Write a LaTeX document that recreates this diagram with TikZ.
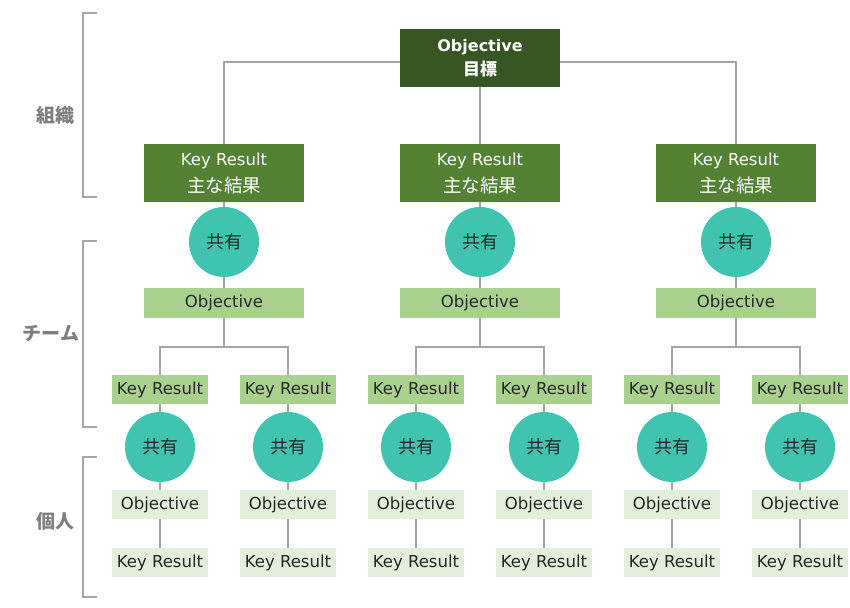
\documentclass[tikz,border=0pt]{standalone}
\usepackage{fontspec}
\setmainfont{DejaVu Sans}
\newfontfamily\jpfont{Noto Sans CJK JP}
\usetikzlibrary{positioning}
\definecolor{okrdark}{HTML}{375623}
\definecolor{okrmid}{HTML}{548235}
\definecolor{okrlight}{HTML}{A9D18E}
\definecolor{okrpale}{HTML}{E2EFDA}
\definecolor{okrteal}{HTML}{40C4B0}
\definecolor{okrline}{HTML}{A6A6A6}
\definecolor{okrtext}{HTML}{262626}
\definecolor{okrlabel}{HTML}{7F7F7F}

\begin{document}
\begin{tikzpicture}[
    x=1pt, y=-1pt,
    box/.style={inner sep=0pt, outer sep=0pt, align=center},
    topbox/.style={box, fill=okrdark, text=white, minimum width=160pt,
                   minimum height=58pt, font=\fontsize{16}{24}\selectfont\bfseries},
    orgkr/.style={box, fill=okrmid, text=white, minimum width=160pt,
                  minimum height=58pt, font=\fontsize{16.5}{27}\selectfont},
    teamobj/.style={box, fill=okrlight, text=okrtext, minimum width=160pt,
                    minimum height=30pt, font=\fontsize{16.5}{20}\selectfont},
    teamkr/.style={box, fill=okrlight, text=okrtext, minimum width=96pt,
                   minimum height=29pt, font=\fontsize{16.5}{20}\selectfont},
    ownbox/.style={box, fill=okrpale, text=okrtext, minimum width=96pt,
                   minimum height=29pt, font=\fontsize{16.5}{20}\selectfont},
    share/.style={circle, fill=okrteal, text=okrtext, minimum size=70pt,
                  inner sep=0pt, outer sep=0pt, font=\jpfont\fontsize{18}{20}\selectfont},
    tier/.style={text=okrlabel, font=\jpfont\bfseries\fontsize{19}{22}\selectfont},
    link/.style={draw=okrline, line width=1.4pt},
    bracket/.style={draw=okrline, line width=1.6pt},
  ]
  \useasboundingbox (0,0) rectangle (850,607);

  % tiers on the left
  \node[tier] (org) at (55,115) {組織};
  \node[tier] (team) at (51,333) {チーム};
  \node[tier] (own) at (55,521) {個人};
  \draw[bracket] (97,13) -- (83,13) -- (83,197) -- (97,197);
  \draw[bracket] (97,241) -- (83,241) -- (83,427) -- (97,427);
  \draw[bracket] (97,457) -- (83,457) -- (83,597) -- (97,597);

  % company objective
  \node[topbox] (top) at (480,58) {Objective\\{\jpfont\fontsize{17}{24}\selectfont 目標}};

  \foreach \g/\cx in {1/224, 2/480, 3/736} {
    \node[orgkr] (kr\g) at (\cx,173) {Key Result\\{\jpfont\fontsize{18.5}{27}\selectfont 主な結果}};
    \node[share] (s\g) at (\cx,242) {共有};
    \node[teamobj] (o\g) at (\cx,303) {Objective};
    \coordinate (j\g) at (\cx,347);
    \draw[link] (kr\g) -- (s\g) -- (o\g);
    \draw[link] (o\g) -- (j\g);
    \foreach \s/\dx in {a/-64, b/64} {
      \node[teamkr] (k\g\s) at ({\cx+\dx},389.5) {Key Result};
      \node[share] (c\g\s) at ({\cx+\dx},447) {共有};
      \node[ownbox] (p\g\s) at ({\cx+\dx},504.5) {Objective};
      \node[ownbox] (r\g\s) at ({\cx+\dx},562.5) {Key Result};
      \draw[link] (k\g\s) -- (c\g\s) -- (p\g\s) -- (r\g\s);
    }
    \draw[link] (k\g a.north) |- (j\g) -| (k\g b.north);
  }

  \draw[link] (top) -- (kr2);
  \draw[link] ([yshift=-4pt]top.west) -| (kr1.north);
  \draw[link] ([yshift=-4pt]top.east) -| (kr3.north);
\end{tikzpicture}
\end{document}
